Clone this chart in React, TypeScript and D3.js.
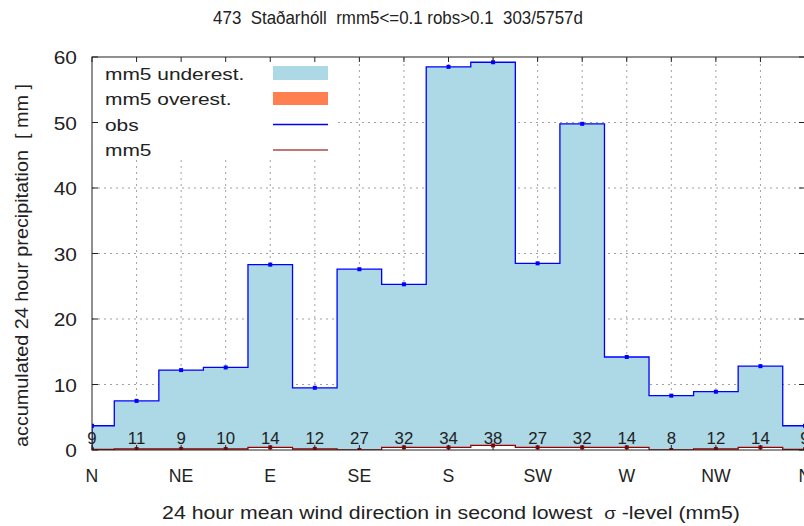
import React, { useRef, useEffect } from 'react';
import * as d3 from 'd3';

// bin centres in degrees (every 22.5)
const directions = [0, 22.5, 45, 67.5, 90, 112.5, 135, 157.5, 180, 202.5, 225, 247.5, 270, 292.5, 315, 337.5, 360];
const obs = [3.7, 7.5, 12.2, 12.6, 28.3, 9.5, 27.6, 25.3, 58.5, 59.2, 28.5, 49.8, 14.2, 8.3, 8.9, 12.8, 3.7];
const mm5 = [0.1, 0.15, 0.15, 0.15, 0.4, 0.15, 0.0, 0.4, 0.4, 0.7, 0.4, 0.4, 0.4, 0.0, 0.15, 0.4, 0.1];
const counts = [9, 11, 9, 10, 14, 12, 27, 32, 34, 38, 27, 32, 14, 8, 12, 14, 9];
const dirLabels = ['N', 'NE', 'E', 'SE', 'S', 'SW', 'W', 'NW', 'N'];
const dirTicks = [0, 45, 90, 135, 180, 225, 270, 315, 360];
const yTicks = [0, 10, 20, 30, 40, 50, 60];
const legendRows = ['mm5 underest.', 'mm5 overest.', 'obs', 'mm5'];

const FONT = '"Liberation Sans", Arial, sans-serif';
const INK = '#222';

const App: React.FC = () => {
  const ref = useRef<SVGSVGElement>(null);

  useEffect(() => {
    const svg = d3.select(ref.current);
    svg.selectAll('*').remove();
    const width = 804;
    const height = 526;
    const margin = { top: 57, right: -1, bottom: 76, left: 92 };

    const x = d3.scaleLinear().domain([0, 360]).range([margin.left, width - margin.right]);
    const y = d3.scaleLinear().domain([0, 60]).range([height - margin.bottom, margin.top]);
    const half = 11.25;

    // text with horizontal stretch factor (the reference glyphs are not square)
    const label = (g: any, tx: number, ty: number, str: string, size: number, anchor: string, sx = 1) =>
      g.append('text')
        .attr('transform', `translate(${tx},${ty}) scale(${sx},1)`)
        .attr('text-anchor', anchor)
        .attr('font-family', FONT).attr('font-size', size)
        .attr('fill', INK)
        .style('white-space', 'pre')
        .text(str);

    // step points for a series
    const steps = (vals: number[]) =>
      directions.flatMap((d, i) => [
        [Math.max(0, d - half), vals[i]],
        [d + half, vals[i]],
      ] as [number, number][]);

    const clipId = 'plotclip';
    svg.append('defs').append('clipPath').attr('id', clipId)
      .append('rect')
      .attr('x', x(0)).attr('y', y(60))
      .attr('width', x(360) - x(0)).attr('height', y(0) - y(60));

    // grid
    const grid = svg.append('g');
    directions.slice(1, -1).forEach(d => {
      grid.append('line')
        .attr('x1', x(d)).attr('x2', x(d))
        .attr('y1', y(0)).attr('y2', y(60))
        .attr('stroke', '#a0a0a0').attr('stroke-width', 1)
        .attr('stroke-dasharray', '2,4');
    });
    yTicks.slice(1, -1).forEach(t => {
      grid.append('line')
        .attr('x1', x(0)).attr('x2', x(360))
        .attr('y1', y(t)).attr('y2', y(t))
        .attr('stroke', '#a0a0a0').attr('stroke-width', 1)
        .attr('stroke-dasharray', '2,4');
    });

    const plot = svg.append('g').attr('clip-path', `url(#${clipId})`);

    // underestimation fill between mm5 and obs, overestimation where mm5 > obs
    const stObs = steps(obs);
    const stMm5 = steps(mm5);
    const fillData = stObs.map((p, i) => ({ d: p[0], hi: p[1], lo: stMm5[i][1] }));
    plot.append('path')
      .datum(fillData)
      .attr('fill', '#add8e6')
      .attr('d', d3.area<any>().x(p => x(p.d)).y0(p => y(p.lo)).y1(p => y(Math.max(p.hi, p.lo))));
    plot.append('path')
      .datum(fillData)
      .attr('fill', '#ff7f50')
      .attr('d', d3.area<any>().x(p => x(p.d)).y0(p => y(p.hi)).y1(p => y(Math.max(p.hi, p.lo))));

    // mm5 area below (white) and line
    plot.append('path')
      .datum(stMm5)
      .attr('fill', '#ffffff')
      .attr('d', d3.area<[number, number]>().x(p => x(p[0])).y0(y(0)).y1(p => y(p[1])));
    plot.append('path')
      .datum(stMm5)
      .attr('fill', 'none')
      .attr('stroke', '#990000').attr('stroke-width', 1.3)
      .attr('d', d3.line<[number, number]>().x(p => x(p[0])).y(p => y(p[1])));
    plot.append('g').selectAll('rect')
      .data(directions)
      .join('rect')
      .attr('x', d => x(d) - 2).attr('y', (d, i) => y(mm5[i]) - 2)
      .attr('width', 4).attr('height', 4)
      .attr('fill', '#990000');

    // obs line
    plot.append('path')
      .datum([[0, 0] as [number, number], ...stObs])
      .attr('fill', 'none')
      .attr('stroke', '#0000ff').attr('stroke-width', 1.3)
      .attr('d', d3.line<[number, number]>().x(p => x(p[0])).y(p => y(p[1])));
    plot.append('g').selectAll('rect')
      .data(directions)
      .join('rect')
      .attr('x', d => x(d) - 2).attr('y', (d, i) => y(obs[i]) - 2)
      .attr('width', 4).attr('height', 4)
      .attr('fill', '#0000ff');

    // counts per bin
    const cg = svg.append('g');
    directions.forEach((d, i) => label(cg, x(d), y(0) - 6, String(counts[i]), 16, 'middle', 1.05));

    // legend
    const lg = svg.append('g');
    lg.append('rect').attr('x', x(0) + 1).attr('y', y(60) + 1).attr('width', 243).attr('height', 101).attr('fill', '#fff');
    legendRows.forEach((r, i) => label(lg, 105, 79.5 + i * 25.6, r, 17, 'start', 1.23));
    lg.append('rect').attr('x', 273).attr('y', 66).attr('width', 55).attr('height', 14).attr('fill', '#add8e6');
    lg.append('rect').attr('x', 273).attr('y', 92).attr('width', 55).attr('height', 13).attr('fill', '#ff7f50');
    lg.append('line').attr('x1', 273).attr('x2', 328).attr('y1', 124.5).attr('y2', 124.5).attr('stroke', '#0000ff').attr('stroke-width', 1.3);
    lg.append('line').attr('x1', 273).attr('x2', 328).attr('y1', 150).attr('y2', 150).attr('stroke', '#b04848').attr('stroke-width', 1.3);

    // border + ticks
    const ax = svg.append('g');
    ax.append('rect')
      .attr('x', x(0)).attr('y', y(60))
      .attr('width', x(360) - x(0)).attr('height', y(0) - y(60))
      .attr('fill', 'none').attr('stroke', INK).attr('stroke-width', 1);
    directions.forEach(d => {
      ax.append('line').attr('x1', x(d)).attr('x2', x(d)).attr('y1', y(0)).attr('y2', y(0) - 5).attr('stroke', INK);
      ax.append('line').attr('x1', x(d)).attr('x2', x(d)).attr('y1', y(60)).attr('y2', y(60) + 5).attr('stroke', INK);
    });
    yTicks.forEach(t => {
      ax.append('line').attr('x1', x(0)).attr('x2', x(0) + 6).attr('y1', y(t)).attr('y2', y(t)).attr('stroke', INK);
      ax.append('line').attr('x1', x(360)).attr('x2', x(360) - 6).attr('y1', y(t)).attr('y2', y(t)).attr('stroke', INK);
      label(ax, x(0) - 15, y(t) + 7, String(t), 19, 'end', 1.1);
    });
    dirTicks.forEach((d, i) => label(ax, x(d), y(0) + 32, dirLabels[i], 19, 'middle', 0.93));

    // titles
    label(svg, 398, 24, '473  Staðarhóll  rmm5<=0.1 robs>0.1  303/5757d', 18, 'middle', 0.94);

    svg.append('text')
      .attr('transform', `translate(28,${(y(0) + y(60)) / 2 + 12}) rotate(-90) scale(1.1,1)`)
      .attr('text-anchor', 'middle')
      .attr('font-family', FONT).attr('font-size', 18)
      .attr('fill', INK)
      .style('white-space', 'pre')
      .text('accumulated 24 hour precipitation  [ mm ]');

    const xt = svg.append('text')
      .attr('transform', `translate(451,519) scale(1.12,1)`)
      .attr('text-anchor', 'middle')
      .attr('font-family', FONT).attr('font-size', 19)
      .attr('fill', INK)
      .style('white-space', 'pre');
    xt.append('tspan').text('24 hour mean wind direction in second lowest  ');
    xt.append('tspan').attr('font-size', 17).text('σ');
    xt.append('tspan').text(' -level (mm5)');
  }, []);

  return (
    <svg
      ref={ref}
      width={804}
      height={526}
      style={{ position: 'absolute', left: 0, top: 0, background: '#fff' }}
    />
  );
};

export default App;
